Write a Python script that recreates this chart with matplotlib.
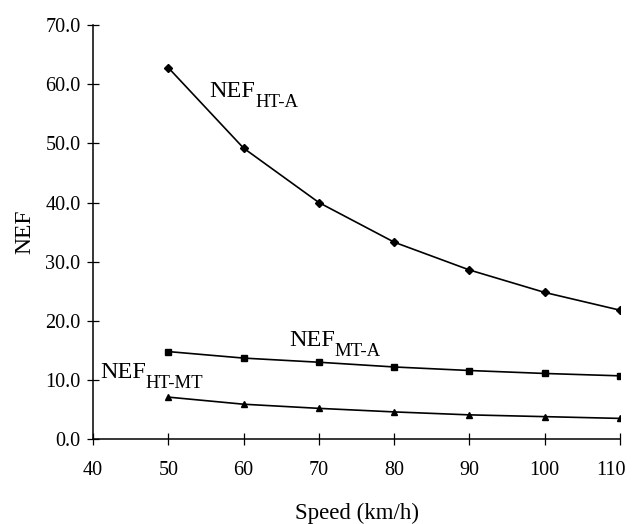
import numpy as np
import matplotlib.pyplot as plt
import matplotlib.transforms as mtransforms

plt.rcParams['font.family'] = ['Liberation Serif', 'DejaVu Serif']

speed = [50, 60, 70, 80, 90, 100, 110]
nef_ht_a = [62.8, 49.2, 40.0, 33.3, 28.6, 24.8, 21.8]
nef_mt_a = [14.8, 13.7, 13.0, 12.2, 11.6, 11.1, 10.7]
nef_ht_mt = [7.1, 5.9, 5.2, 4.6, 4.1, 3.8, 3.5]

fig = plt.figure(figsize=(6.33, 5.24), dpi=100)
ax = fig.add_axes([0.147, 0.162, 0.8325, 0.790])

ax.plot(speed, nef_ht_a, color='black', lw=1.2, marker='D', ms=3.8)
ax.plot(speed, nef_mt_a, color='black', lw=1.2, marker='s', ms=4.5)
ax.plot(speed, nef_ht_mt, color='black', lw=1.2, marker='^', ms=4.5)

ax.set_xlim(40, 110)
ax.set_ylim(0, 70)
ax.set_xticks(np.arange(40, 111, 10))
ax.set_yticks(np.arange(0, 71, 10))
ax.set_yticklabels(['%.1f' % v for v in np.arange(0, 71, 10)])
ax.tick_params(direction='inout', length=8, width=0.9, labelsize=14.5)
ax.tick_params(axis='x', pad=12)
ax.tick_params(axis='y', pad=5)
for s in ['top', 'right']:
    ax.spines[s].set_visible(False)
for s in ['left', 'bottom']:
    ax.spines[s].set_linewidth(1.1)

# last x label pulled left so it stays inside the figure
fig.canvas.draw()
lab = ax.get_xticklabels()[-1]
lab.set_transform(lab.get_transform() + mtransforms.ScaledTranslation(-9 / 100, 0, fig.dpi_scale_trans))

ax.set_xlabel('Speed (km/h)', fontsize=16.5, labelpad=16)
ax.set_ylabel('NEF', fontsize=17, labelpad=7)

def label(x, y, main, sub):
    t = ax.text(x, y, main, fontsize=17.5, ha='left', va='baseline')
    ax.annotate(sub, xy=(1, 0), xycoords=t, xytext=(0, -3.6),
                textcoords='offset points', fontsize=13.5, va='baseline')

label(55.5, 57.9, 'NEF', 'HT-A')
label(66.0, 15.7, 'NEF', 'MT-A')
label(40.9, 10.3, 'NEF', 'HT-MT')

fig.savefig('out.png', dpi=100)
